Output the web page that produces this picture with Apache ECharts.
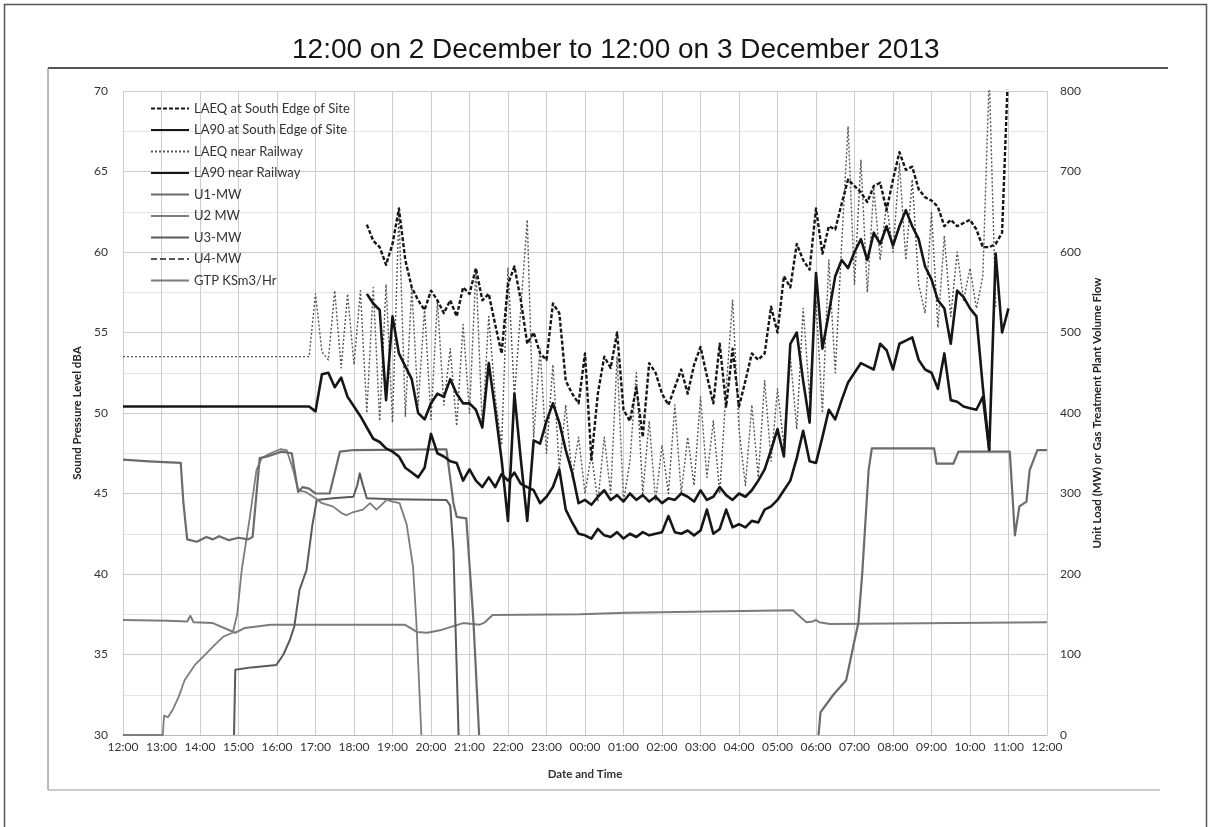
<!DOCTYPE html>
<html>
<head>
<meta charset="utf-8">
<title>Noise and unit load, 2-3 December 2013</title>
<script src="https://cdn.jsdelivr.net/npm/echarts@6/dist/echarts.min.js"></script>
<style>
  html, body { margin: 0; padding: 0; background: #ffffff; }
  #chart { width: 1211px; height: 827px; }
</style>
</head>
<body>
<div id="chart"></div>
<script>
// ---- tick labels for the 24 h window (12:00 on 2 Dec to 12:00 on 3 Dec) ----
const hourTicks = ['12:00','13:00','14:00','15:00','16:00','17:00','18:00','19:00','20:00',
  '21:00','22:00','23:00','00:00','01:00','02:00','03:00','04:00','05:00','06:00','07:00',
  '08:00','09:00','10:00','11:00','12:00'];

// ---- sound levels, 10-minute samples (dBA) ----
const sampleStepMin = 10;

const laeqSouthStart = '18:20';
const laeqSouth = [61.7,60.7,60.3,59.2,
  60.5,62.7,59.5,57.8,57.0,56.4,
  57.6,57.0,56.2,57.0,56.0,57.8,
  57.4,59.0,57.0,57.4,55.5,53.7,
  58.0,59.1,57.0,54.3,55.0,53.7,
  53.3,56.8,56.2,52.0,51.2,50.6,
  53.7,47.1,51.2,53.5,52.8,55.0,
  50.2,49.5,51.6,48.5,53.1,52.5,
  51.2,50.5,51.6,52.7,51.2,53.0,
  54.1,52.3,50.6,54.3,50.4,54.0,
  50.4,52.0,53.7,53.3,53.7,56.6,
  55.0,58.5,57.8,60.5,59.5,58.9,
  62.7,59.9,61.6,61.4,63.0,64.5,
  64.1,63.7,63.1,64.1,64.3,62.6,
  64.5,66.2,65.1,65.3,63.9,63.4,
  63.2,62.8,61.6,62.0,61.6,61.8,
  62.0,61.4,60.3,60.3,60.5,61.2,
  72.0];

const la90SouthStart = '18:20';
const la90South = [57.4,56.8,56.4,50.8,
  56.0,53.7,52.9,52.1,50.0,49.6,
  50.6,51.2,51.0,52.1,51.2,50.6,
  50.6,50.2,49.1,53.1,50.2,47.1,
  43.3,51.2,47.1,43.3,48.3,48.1,
  49.5,50.6,49.4,47.7,46.3,44.4,
  44.6,44.3,44.8,45.2,44.6,44.9,
  44.5,45.0,44.6,44.9,44.5,44.8,
  44.4,44.7,44.6,45.0,44.8,44.5,
  45.2,44.6,44.8,45.4,44.9,44.6,
  45.0,44.8,45.2,45.8,46.5,47.7,
  49.0,47.3,54.3,55.0,52.0,49.4,
  58.7,54.0,56.2,58.5,59.5,59.0,
  60.0,60.8,59.5,61.2,60.5,61.6,
  60.4,61.6,62.6,61.6,60.8,59.1,
  58.3,57.0,56.5,54.3,57.6,57.2,
  56.5,56.0,51.6,47.7,59.9,55.0,
  56.5];

// railway logger: held reading from 12:00 until the first sample at 17:00
const railHoldFrom = '12:00';
const railHoldTo = '16:50';
const laeqRailHold = 53.5;
const la90RailHold = 50.4;

const laeqRailStart = '17:00';
const laeqRail = [57.4,53.8,53.3,57.6,52.8,57.4,
  53.0,57.6,50.0,57.8,49.5,58.0,
  49.4,62.5,49.8,57.8,50.5,56.5,
  49.6,57.0,50.5,54.0,49.2,55.5,
  50.0,59.0,49.1,56.0,51.0,48.0,
  59.0,51.0,56.5,62.0,48.5,54.0,
  47.5,53.0,46.5,50.5,46.0,48.5,
  45.0,47.5,44.5,48.5,45.0,53.5,
  44.5,47.0,52.5,45.0,49.5,44.5,
  48.0,45.0,50.5,45.0,48.5,45.5,
  51.0,46.0,49.5,45.0,51.5,57.0,
  49.0,45.5,50.5,46.0,52.0,47.0,
  51.5,48.0,53.5,49.0,56.5,51.0,
  57.0,50.0,59.5,52.5,60.5,67.8,
  58.0,65.7,57.5,64.0,59.5,63.0,
  60.0,65.5,59.5,64.5,58.0,56.2,
  62.5,55.3,61.0,56.0,60.0,57.0,
  59.0,56.5,58.5,71.0,56.6];

const la90RailStart = '17:00';
const la90Rail = [50.1,52.4,52.5,51.6,52.2,51.0,
  50.4,49.8,49.1,48.4,48.2,47.8,
  47.6,47.3,46.6,46.3,46.0,46.6,
  48.7,47.5,47.3,47.0,46.9,45.8,
  46.5,45.8,45.4,46.0,45.4,46.2,
  45.8,46.3,45.6,45.4,45.2,44.4,
  44.8,45.4,46.5,44.0,43.2,42.5,
  42.4,42.2,42.8,42.4,42.3,42.6,
  42.2,42.5,42.3,42.6,42.4,42.5,
  42.6,43.6,42.6,42.5,42.7,42.4,
  42.7,44.0,42.5,42.8,44.0,42.9,
  43.1,42.9,43.3,43.2,44.0,44.2,
  44.6,45.2,45.8,47.2,48.9,47.0,
  46.9,48.5,50.2,49.6,50.8,51.9,
  52.5,53.1,52.9,52.7,54.3,53.9,
  52.7,54.3,54.5,54.7,53.3,52.7,
  52.5,51.5,53.7,50.8,50.7,50.4,
  50.3,50.2,51.0,47.7];

// ---- unit loads (MW) and gas treatment plant flow (kSm3/hr), at change points ----
const u1Times = ['12:00','12:40','13:30','13:34','13:40','13:55','14:10','14:20','14:30','14:45',
  '15:00','15:15','15:22','15:33','15:45','16:07','16:23','16:33','16:40','16:50','17:00','17:22',
  '17:38','18:00','20:24','20:35','20:40','20:55','21:06','21:15','21:30',
  '06:04','06:07','06:27','06:47','06:58','07:06','07:12','07:22','07:27','09:04','09:08','09:34',
  '09:42','11:02','11:10','11:17','11:28','11:33','11:45','12:00'];
const u1Values = [342,340,338,290,243,240,246,243,247,242,
  245,243,246,344,346,352,350,302,308,306,300,300,
  352,354,355,288,271,269,143,0,null,
  0,28,50,68,110,139,200,329,356,356,337,337,
  352,352,248,284,290,329,354,354];

const u2Times = ['12:00','13:02','13:04','13:10','13:18','13:27','13:36','13:52','14:07','14:23',
  '14:36','14:51','14:58','15:05','15:17','15:28','15:36','15:50','16:05','16:15','16:25','16:33',
  '16:45','17:00','17:10','17:27','17:40','17:48','17:59','18:14','18:25','18:35','18:51','19:00',
  '19:11','19:22','19:32','19:37','19:45'];
const u2Values = [0,0,24,22,32,48,68,87,99,112,
  122,127,150,205,267,329,344,350,355,354,330,304,
  302,294,288,284,276,273,277,280,288,280,292,290,
  288,262,209,143,0];

const u3Times = ['14:53','14:55','15:20','15:59','16:10','16:20','16:27','16:35','16:46','16:55',
  '17:02','17:27','17:59','18:05','18:09','18:14','18:20','19:00','20:24','20:30','20:35','20:38','20:43'];
const u3Values = [0,81,84,87,100,118,135,180,205,260,
  292,294,296,310,325,310,294,293,292,285,230,140,0];

const u4Times = [];
const u4Values = [];

const gtpTimes = ['12:00','13:10','13:40','13:45','13:50','14:20','14:55','15:10','15:50','19:19',
  '19:38','19:54','20:14','20:50','21:16','21:24','21:36','23:52','01:05','05:24','05:45','05:55',
  '06:00','06:05','06:22','12:00'];
const gtpValues = [143,142,141,148,140,139,127,133,137,137,
  128,127,130,139,137,140,149,150,152,155,140,141,
  143,140,138,140];

// ---- helpers: clock time -> hours after 12:00 on 2 December ----
function clockToHours(t) {
  const [hh, mm] = t.split(':').map(Number);
  let h = hh + mm / 60 - 12;
  if (h < 0) h += 24;
  return h;
}
function timesToHours(times) {
  const out = [];
  let prev = -1;
  times.forEach(function (t) {
    let h = clockToHours(t);
    if (h < prev) h += 24;
    out.push(h);
    prev = h;
  });
  return out;
}
function stepSeries(start, values) {
  const h0 = clockToHours(start);
  return values.map(function (v, i) { return [h0 + i * sampleStepMin / 60, v]; });
}
function pairSeries(times, values) {
  const hs = timesToHours(times);
  return hs.map(function (h, i) { return [h, values[i] === null ? '-' : values[i]]; });
}
function heldSeries(holdValue, start, values) {
  return [[clockToHours(railHoldFrom), holdValue], [clockToHours(railHoldTo), holdValue]]
    .concat(stepSeries(start, values));
}

const chart = echarts.init(document.getElementById('chart'), null, { renderer: 'canvas' });

const labelFont = 'Lato, "Open Sans", sans-serif';

function lineSeries(name, yAxisIndex, data, color, width, type, z) {
  return {
    name: name, type: 'line', yAxisIndex: yAxisIndex, data: data,
    showSymbol: false, symbol: 'none', animation: false, z: z,
    lineStyle: { color: color, width: width, type: type, cap: 'butt', join: 'round' },
    itemStyle: { color: color }
  };
}

const option = {
  backgroundColor: '#ffffff',
  animation: false,
  title: {
    text: '12:00 on 2 December to 12:00 on 3 December 2013',
    left: 287, top: 31,
    textStyle: { fontFamily: '"Liberation Sans", Arial, sans-serif', fontSize: 28, fontWeight: 'normal', color: '#151515' }
  },
  grid: { left: 123, right: 164, top: 91, bottom: 92, containLabel: false },
  legend: {
    orient: 'vertical', left: 150, top: 102, padding: 0,
    itemWidth: 38, itemHeight: 10, itemGap: 8.5,
    itemStyle: { opacity: 0 },
    textStyle: { fontFamily: labelFont, fontSize: 13, color: '#333' },
    data: ['LAEQ at South Edge of Site', 'LA90 at South Edge of Site', 'LAEQ near Railway',
      'LA90 near Railway', 'U1-MW', 'U2 MW', 'U3-MW', 'U4-MW', 'GTP KSm3/Hr'],
    selectedMode: false
  },
  xAxis: {
    type: 'value', min: 0, max: 24, interval: 1,
    name: 'Date and Time', nameLocation: 'middle', nameGap: 33,
    nameTextStyle: { fontFamily: labelFont, fontSize: 11.5, fontWeight: 'bold', color: '#333' },
    axisLine: { show: true, lineStyle: { color: '#b8b8b8', width: 1 } },
    axisTick: { show: false },
    axisLabel: {
      fontFamily: labelFont, fontSize: 12, color: '#333', margin: 6,
      formatter: function (v) { return hourTicks[Math.round(v)]; }
    },
    splitLine: { show: true, lineStyle: { color: '#cdcdcd', width: 1 } }
  },
  yAxis: [
    {
      type: 'value', min: 30, max: 70, interval: 5, position: 'left',
      name: 'Sound Pressure Level dBA', nameLocation: 'middle', nameGap: 33, nameRotate: 90,
      nameTextStyle: { fontFamily: labelFont, fontSize: 11.5, fontWeight: 'bold', color: '#222' },
      axisLine: { show: false }, axisTick: { show: false },
      axisLabel: { fontFamily: labelFont, fontSize: 12, color: '#333', margin: 15 },
      splitLine: { show: true, lineStyle: { color: '#cdcdcd', width: 1 } },
      minorTick: { show: false, splitNumber: 2 },
      minorSplitLine: { show: true, lineStyle: { color: '#e4e4e4', width: 1 } }
    },
    {
      type: 'value', min: 0, max: 800, interval: 100, position: 'right',
      name: 'Unit Load (MW) or Gas Treatment Plant Volume Flow', nameLocation: 'middle', nameGap: 44, nameRotate: 90,
      nameTextStyle: { fontFamily: labelFont, fontSize: 11.5, fontWeight: 'bold', color: '#222' },
      axisLine: { show: false }, axisTick: { show: false },
      axisLabel: { fontFamily: labelFont, fontSize: 12, color: '#333', margin: 13 },
      splitLine: { show: false }
    }
  ],
  series: [
    lineSeries('GTP KSm3/Hr', 1, pairSeries(gtpTimes, gtpValues), '#7b7b7b', 2, 'solid', 2),
    lineSeries('U4-MW', 1, pairSeries(u4Times, u4Values), '#555555', 1.2, [6, 3], 2),
    lineSeries('U3-MW', 1, pairSeries(u3Times, u3Values), '#5a5a5a', 2, 'solid', 3),
    lineSeries('U2 MW', 1, pairSeries(u2Times, u2Values), '#7d7d7d', 1.8, 'solid', 3),
    lineSeries('U1-MW', 1, pairSeries(u1Times, u1Values), '#6b6b6b', 2.2, 'solid', 3),
    lineSeries('LAEQ near Railway', 0, heldSeries(laeqRailHold, laeqRailStart, laeqRail), '#555555', 1.4, [2, 2], 4),
    lineSeries('LA90 near Railway', 0, heldSeries(la90RailHold, la90RailStart, la90Rail), '#161616', 2.6, 'solid', 5),
    lineSeries('LAEQ at South Edge of Site', 0, stepSeries(laeqSouthStart, laeqSouth), '#161616', 2.4, [4, 2], 5),
    lineSeries('LA90 at South Edge of Site', 0, stepSeries(la90SouthStart, la90South), '#161616', 2.6, 'solid', 5)
  ],
  graphic: [
    { type: 'rect', shape: { x: 4.5, y: 4.5, width: 1202, height: 830 }, style: { fill: 'none', stroke: '#555', lineWidth: 1.5 }, silent: true },
    { type: 'line', shape: { x1: 48, y1: 68, x2: 1168, y2: 68 }, style: { stroke: '#555', lineWidth: 2 }, silent: true },
    { type: 'line', shape: { x1: 48, y1: 68, x2: 48, y2: 790 }, style: { stroke: '#777', lineWidth: 1 }, silent: true },
    { type: 'line', shape: { x1: 48, y1: 790, x2: 1160, y2: 790 }, style: { stroke: '#999', lineWidth: 1 }, silent: true }
  ]
};

chart.setOption(option);
</script>
</body>
</html>
